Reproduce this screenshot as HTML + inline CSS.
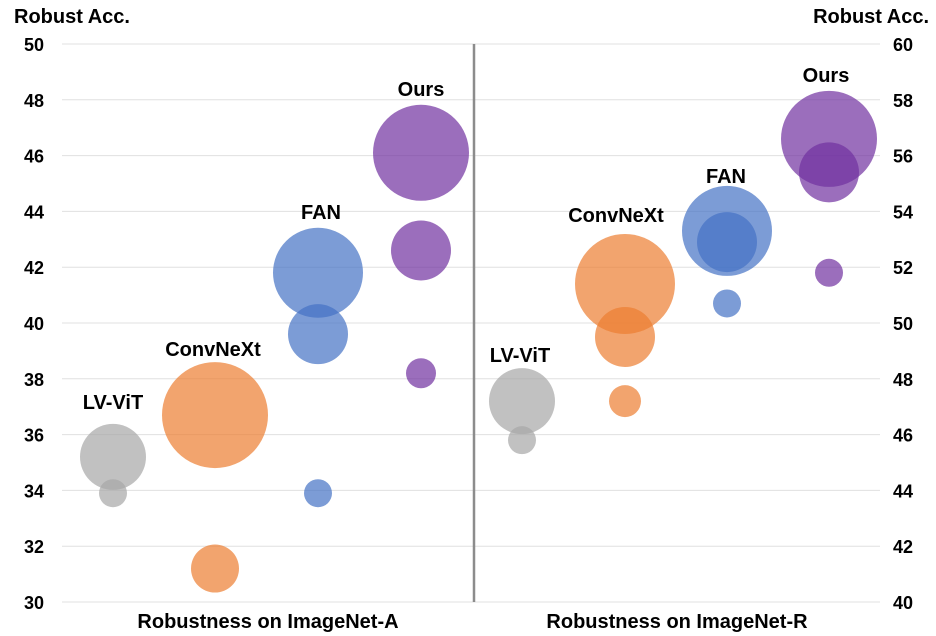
<!DOCTYPE html>
<html><head><meta charset="utf-8"><style>
html,body{margin:0;padding:0;background:#fff;}
svg{display:block;font-family:"Liberation Sans",Arial,sans-serif;}
</style></head><body>
<svg id="chart" width="936" height="636" viewBox="0 0 936 636"></svg>
<script>
const yTicksL=[30,32,34,36,38,40,42,44,46,48,50];
const yTicksR=[40,42,44,46,48,50,52,54,56,58,60];
const models=["LV-ViT","ConvNeXt","FAN","Ours"];
const colors=["#a6a6a6","#ed7d31","#4472c4","#7030a0"];
// ImageNet-A: values per model (left axis)
const valsA=[[35.2,33.9],[36.7,31.2],[41.8,39.6,33.9],[46.1,42.6,38.2]];
const sizesA=[[33,14],[53,24],[45,30,14],[48,30,15]];
// ImageNet-R: values per model (right axis)
const valsR=[[47.2,45.8],[51.4,49.5,47.2],[53.3,52.9,50.7],[56.6,55.4,51.8]];
const sizesR=[[33,14],[50,30,16],[45,30,14],[48,30,14]];
const labelOffA=[[0,-48],[-2,-59],[3,-54],[0,-57]];
const labelOffR=[[-2,-39],[-9,-62],[-1,-48],[-3,-57]];
const xA=[113,215,318,421], xR=[522,625,727,829];

const svg=document.getElementById('chart');
const NS='http://www.w3.org/2000/svg';
function yL(v){return 602-(v-30)*(558/20);}
function yR(v){return 602-(v-40)*(558/20);}
function mk(t,a,p){const e=document.createElementNS(NS,t);for(const k in a)e.setAttribute(k,a[k]);(p||svg).appendChild(e);return e;}

yTicksL.forEach((t,i)=>{
  const g=mk('line',{x1:62,x2:880,y1:yL(t),y2:yL(t),stroke:'#e0e0e0','stroke-width':1});
  
  
  const l=mk('text',{x:44,y:yL(t)+7,'text-anchor':'end','font-size':18,'font-weight':'bold',fill:'#000'});
  l.textContent=t;
  
  
  const r=mk('text',{x:893,y:yR(yTicksR[i])+7,'text-anchor':'start','font-size':18,'font-weight':'bold',fill:'#000'});
  r.textContent=yTicksR[i];
  
  
});
const d=mk('line',{x1:474,x2:474,y1:44,y2:602,stroke:'#8c8c8c','stroke-width':2.5});



function drawPanel(xs,vals,sizes,yf,offs,panel){
  vals.forEach((arr,m)=>{
    arr.forEach((v,j)=>{
      const c=mk('circle',{cx:xs[m],cy:yf(v),r:sizes[m][j],fill:colors[m],'fill-opacity':0.7});
      
      
    });
    const t=mk('text',{x:xs[m]+offs[m][0],y:yf(arr[0])+offs[m][1],'text-anchor':'middle','font-size':20,'font-weight':'bold',fill:'#000'});
    t.textContent=models[m];
    
    
  });
}
drawPanel(xA,valsA,sizesA,yL,labelOffA,'a');
drawPanel(xR,valsR,sizesR,yR,labelOffR,'r');

const texts=[[14,23,'start','Robust Acc.','y-axis-title-left'],[929,23,'end','Robust Acc.','y-axis-title-right'],
[268,628,'middle','Robustness on ImageNet-A','x-label-imagenet-a'],[677,628,'middle','Robustness on ImageNet-R','x-label-imagenet-r']];
texts.forEach(a=>{
  const t=mk('text',{x:a[0],y:a[1],'text-anchor':a[2],'font-size':20,'font-weight':'bold',fill:'#000'});
  t.textContent=a[3];
  
  
});
</script>
</body></html>
